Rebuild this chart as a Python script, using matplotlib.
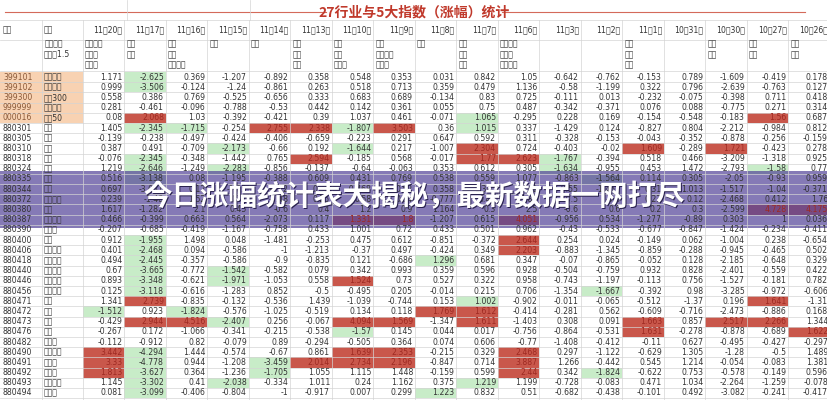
import matplotlib.pyplot as plt
from matplotlib.patches import Rectangle

plt.rcParams["font.family"] = "Noto Sans CJK SC"

dates = ["11月20日", "11月17日", "11月16日", "11月15日", "11月14日", "11月13日", "11月10日", "11月9日",
         "11月8日", "11月7日", "11月6日", "11月3日", "11月2日", "11月1日", "10月31日", "10月30日",
         "10月27日", "10月26日"]
top3 = [["通信设备", "半导体", "元器件"], ["保险", "银行"], ["保险", "酿酒", "食品饮料"], ["酿酒"], ["煤炭"],
        ["钢铁", "建材", "煤炭"], ["保险", "酿酒", "半导体"], ["煤炭", "通信设备", "半导体"], ["证券"],
        ["石油", "钢铁", "证券"], ["家用电器", "半导体", "食品饮料"], [], [], ["建筑", "保险", "石油"], [],
        ["保险", "石油"], ["酿酒", "保险"], ["酿酒", "建筑"]]

codes = ["399101", "399102", "399300", "999999", "000016", "880301", "880305", "880310", "880318", "880324",
         "880335", "880344", "880372", "880380", "880387", "880390", "880400", "880406", "880418", "880440",
         "880446", "880456", "880471", "880472", "880473", "880476", "880482", "880490", "880491", "880492",
         "880493", "880494"]
names = ["中小板综", "创业板综", "沪深300", "上证指数", "上证50", "煤炭", "电力", "石油", "钢铁", "有色",
         "化工", "建材", "食品饮料", "酿酒", "家用电器", "汽车类", "医药", "商业连锁", "传媒娱乐", "工业机械",
         "电气设备", "环境保护", "银行", "证券", "保险", "建筑", "房地产", "通信设备", "半导体", "元器件",
         "软件服务", "互联网"]
values = [
    [1.171, -2.625, 0.369, -1.207, -0.892, 0.358, 0.548, 0.353, 0.031, 0.842, 1.05, -0.642, -0.762, -0.153, 0.789, -1.609, -0.419, 0.178],
    [0.999, -3.506, -0.124, -1.24, -0.861, 0.263, 0.518, 0.713, 0.359, 0.479, 1.136, -0.58, -1.199, 0.322, 0.796, -2.639, -0.763, 0.127],
    [0.558, 0.386, 0.769, -0.525, -0.656, 0.333, 0.683, 0.689, -0.134, 0.83, 0.725, -0.111, 0.013, -0.232, -0.075, -0.398, 0.711, 0.418],
    [0.281, -0.461, -0.096, -0.788, -0.53, 0.442, 0.142, 0.361, 0.055, 0.75, 0.487, -0.342, -0.371, 0.076, 0.088, -0.775, 0.271, 0.314],
    [0.08, 2.068, 1.03, -0.392, -0.421, 0.39, 1.037, 0.461, -0.071, 1.065, -0.295, 0.228, 0.169, -0.154, -0.548, -0.183, 1.56, 0.687],
    [1.405, -2.345, -1.715, -0.254, 2.755, 2.338, -1.807, 3.503, 0.36, 1.015, 0.337, -1.429, 0.124, -0.827, 0.804, -2.212, -0.984, 0.812],
    [-0.139, -0.238, -0.497, -0.424, -0.406, -0.659, -0.223, 0.291, 0.647, 0.592, 0.311, -0.328, -0.153, -0.043, -0.352, -0.878, -0.256, -0.159],
    [0.387, 0.491, -0.709, -2.173, -0.66, 0.192, -1.644, 0.217, -1.007, 2.304, 0.724, -0.403, -0.02, 1.609, -0.289, 1.721, -0.423, 0.278],
    [-0.076, -2.345, -0.348, -1.442, 0.765, 2.594, -0.185, 0.568, -0.017, 1.77, 2.623, -1.767, -0.394, 0.518, 0.466, -3.209, -1.318, 0.925],
    [1.219, -2.646, -1.249, -2.283, -0.856, -0.137, -0.64, -0.063, 0.353, 0.612, 0.305, -1.634, -0.955, 0.453, 1.472, -2.793, -1.58, 0.77],
    [0.516, -3.138, 0.08, -1.195, -0.388, 0.609, 0.431, 0.769, 0.538, 0.559, 1.077, -0.863, -1.564, 0.114, 0.305, -2.05, -0.93, 0.959],
    [0.697, -3.031, 0.12, -1.05, -0.72, 0.38, -0.468, 0.52, 0.358, 1.345, 0.41, -0.55, -1.451, 0.31, 1.013, -1.517, -1.04, -0.371],
    [0.239, -1.48, 1.52, 0.31, -0.48, 0.25, 0.58, 0.64, -0.777, 0.42, 1.86, -0.5, -0.3, 0.23, 0.12, -2.468, 0.412, 1.76],
    [1.617, -1.282, 2.1, 0.45, -0.6, 0.4, 1.2, 0.9, 1.164, 0.3, 2.5, -0.6, 0.6, 0.2, 0.3, -2.599, 4.728, 4.175],
    [0.466, -0.399, 0.663, 0.564, -2.073, 0.117, 1.331, 1.8, -1.207, 0.615, 4.051, -0.956, 0.534, -1.277, -0.89, 0.303, 1.0, 0.036],
    [-0.207, -0.685, -0.419, -1.167, -0.758, 0.433, 1.001, 0.72, 0.433, 0.501, 0.962, -0.43, -0.533, -0.677, -0.847, -1.424, -0.234, -0.411],
    [0.912, -1.955, 1.498, 0.048, -1.481, -0.253, 0.475, 0.612, -0.851, -0.372, 2.644, 0.254, 0.024, -0.149, 0.062, -1.004, 0.238, -0.654],
    [0.401, -2.468, 0.094, -0.586, -1, -1.213, -0.37, 0.497, -0.424, 0.349, 2.203, -0.883, -1.345, -0.859, -0.288, -0.945, -0.465, 0.502],
    [0.494, -2.445, -0.357, -0.586, -0.9, -0.835, 0.121, -0.686, 1.296, 0.681, 0.347, -0.07, -0.865, -0.052, 0.128, -2.185, -0.648, 0.329],
    [0.67, -3.665, -0.772, -1.542, -0.582, 0.079, 0.342, 0.993, 0.359, 0.596, 0.928, -0.504, -0.759, 0.932, 0.828, -2.401, -0.559, 0.422],
    [0.893, -3.348, -0.621, -1.971, -1.053, 0.558, 1.524, 0.73, 0.527, 0.322, 0.958, -0.743, -1.197, -0.113, 0.756, -1.527, -0.181, 0.782],
    [0.125, -3.118, -0.616, -1.283, 0.852, -0.5, -0.495, 0.205, -0.014, 0.215, 0.706, -1.354, -1.667, -0.392, 0.98, -3.285, -0.972, -0.606],
    [1.341, 2.739, -0.835, -0.132, -0.536, 1.439, -1.039, -0.744, 0.153, 1.002, -0.902, -0.011, -0.065, -0.512, -1.37, 0.196, 1.641, -1.31],
    [-1.512, 0.923, -1.824, -0.576, -1.025, -0.519, 0.134, 0.118, 1.769, 1.612, -0.414, -0.281, 0.562, -0.609, -0.716, -2.473, -0.886, 0.168],
    [-0.429, 2.944, 4.516, -2.407, 0.256, -0.067, 4.094, 1.569, -1.347, 1.611, -1.403, 0.308, 0.091, 1.663, 0.857, 2.517, 2.266, 1.344],
    [-0.267, 0.172, -1.066, -0.341, -0.215, -0.538, -1.57, 0.145, 0.044, 0.017, -0.756, -0.864, -0.531, 1.631, -0.278, -0.878, -0.689, 1.622],
    [-0.112, -0.912, 0.82, -0.079, 0.89, -0.294, -0.505, 0.364, 0.074, 0.606, -0.77, -1.408, -0.412, -0.11, 0.627, -0.495, -0.427, -0.297],
    [3.442, -4.294, 1.444, -0.574, -0.67, 0.861, 1.639, 2.353, -0.215, 0.329, 2.468, 0.297, -1.122, -0.629, 1.305, -1.28, -0.5, 1.489],
    [3.33, -4.778, 0.944, -1.208, -3.459, 2.014, 2.734, 2.196, -0.847, 0.714, 3.887, 1.266, -0.442, 0.545, 1.214, -0.054, -0.083, 1.381],
    [1.813, -3.627, 0.364, -1.236, -1.705, 1.055, 1.115, 1.448, -0.159, 0.599, 2.44, 0.342, -1.824, -0.622, 0.753, -0.578, -0.149, 0.596],
    [1.145, -3.302, 0.41, -2.038, -0.334, 1.011, 0.24, 1.162, 0.375, 1.219, 1.199, -0.728, -0.083, 0.471, 1.034, -2.264, -1.259, -0.078],
    [0.081, -3.099, -0.406, -0.804, -1, -0.917, 0.007, 0.299, 1.223, 0.832, 0.51, -0.682, -0.438, -0.101, 0.492, -3.082, -0.241, -0.417],
]
# highlighted cells (row, column) in the sheet
red_cells = [(4, 1), (4, 16), (5, 4), (5, 5), (5, 7), (7, 9), (7, 13), (7, 15), (8, 5), (8, 9), (8, 10),
             (13, 16), (13, 17), (14, 6), (14, 7), (14, 10), (16, 10), (17, 10), (20, 6), (22, 1), (22, 16),
             (23, 8), (23, 9), (24, 1), (24, 2), (24, 6), (24, 7), (24, 9), (24, 13), (24, 15), (24, 16),
             (25, 13), (25, 17), (27, 0), (27, 6), (27, 7), (27, 10), (28, 0), (28, 5), (28, 6), (28, 7),
             (28, 10), (29, 0), (29, 10)]
green_cells = [(0, 1), (1, 1), (4, 9), (5, 1), (5, 2), (5, 6), (5, 9), (7, 3), (7, 6), (8, 1), (8, 11),
               (9, 1), (9, 3), (9, 11), (9, 16), (10, 1), (10, 12), (16, 1), (17, 1), (18, 1), (18, 8),
               (19, 1), (19, 3), (20, 1), (20, 3), (21, 1), (21, 12), (22, 9), (23, 0), (23, 2), (24, 3),
               (25, 6), (27, 1), (28, 1), (28, 4), (29, 1), (29, 4), (29, 12), (30, 1), (30, 3), (30, 9),
               (31, 1), (31, 8)]

fig = plt.figure(figsize=(8.28, 4.0), dpi=100)
ax = fig.add_axes([0, 0, 1, 1])
ax.set_xlim(0, 828)
ax.set_ylim(400, 0)
ax.axis("off")

fs = 5.6
col_w = 41.5
x0 = 83
row_h = 10.19
y_first = 72
grid = "#d4d4d4"
txt = "#333333"

# title row
ax.text(414, 12, "27行业与5大指数（涨幅）统计", color="#c0392b", fontsize=10,
        family="Noto Sans CJK JP", fontweight="bold", ha="center", va="center")
ax.plot([5, 326], [12, 12], color="#d46a5a", lw=0.8)
ax.plot([502, 805], [12, 12], color="#d46a5a", lw=0.8)

# header
ax.text(3, 30, "代码", fontsize=fs, color=txt, va="center")
ax.text(44, 30, "名称", fontsize=fs, color=txt, va="center")
ax.text(45, 44, "涨幅前三", fontsize=fs, color=txt, va="center")
ax.text(44, 54, "且大于1.5", fontsize=fs, color=txt, va="center")
for i, d in enumerate(dates):
    xl = x0 + i * col_w
    ax.text(xl + col_w - 2, 30, d, fontsize=fs, color=txt, va="center", ha="right")
    for k, s in enumerate(top3[i]):
        ax.text(xl + 2, 44 + k * 10.5, s, fontsize=fs, color=txt, va="center")

hl = {c: "#c9574b" for c in red_cells}
hl.update({c: "#c8ecc8" for c in green_cells})

for r in range(len(codes)):
    yt = y_first + r * row_h
    yc = yt + row_h / 2
    if r < 5:
        ax.add_patch(Rectangle((0, yt), 83, row_h, color="#f8d2b2", lw=0))
    ax.text(3, yc, codes[r], fontsize=fs, color="#8a5a3a" if r < 5 else txt, va="center")
    ax.text(44, yc, names[r], fontsize=fs, color=txt, va="center")
    for i, v in enumerate(values[r]):
        xl = x0 + i * col_w
        if (r, i) in hl:
            ax.add_patch(Rectangle((xl, yt), col_w, row_h, color=hl[(r, i)], lw=0))
        c = "#9e2a22" if (r, i) in red_cells else txt
        ax.text(xl + col_w - 2, yc, f"{v:g}", fontsize=fs, color=c, va="center", ha="right")

# grid lines
for i in range(len(dates) + 1):
    ax.plot([x0 + i * col_w] * 2, [20, 400], color=grid, lw=0.5)
ax.plot([42, 42], [20, 400], color=grid, lw=0.5)
ax.plot([127, 127], [0, 20], color=grid, lw=0.5)
ax.plot([250, 250], [0, 20], color=grid, lw=0.5)
for y in [20, 40, 71] + [y_first + r * row_h for r in range(1, len(codes) + 1)]:
    ax.plot([0, 828], [y, y], color=grid, lw=0.5)

# banner overlay
banner = "今日涨幅统计表大揭秘，最新数据一网打尽"
ax.add_patch(Rectangle((0, 171), 828, 57, color="#56479a", alpha=0.72, lw=0))
ax.text(415.5, 198.5, banner, fontsize=20.5, color="#2a2250", ha="center", va="center",
        family="Noto Sans CJK JP", fontweight="bold")
ax.text(414, 197, banner, fontsize=20.5, color="white", ha="center", va="center",
        family="Noto Sans CJK JP", fontweight="bold")

fig.savefig("out.png", dpi=100)
